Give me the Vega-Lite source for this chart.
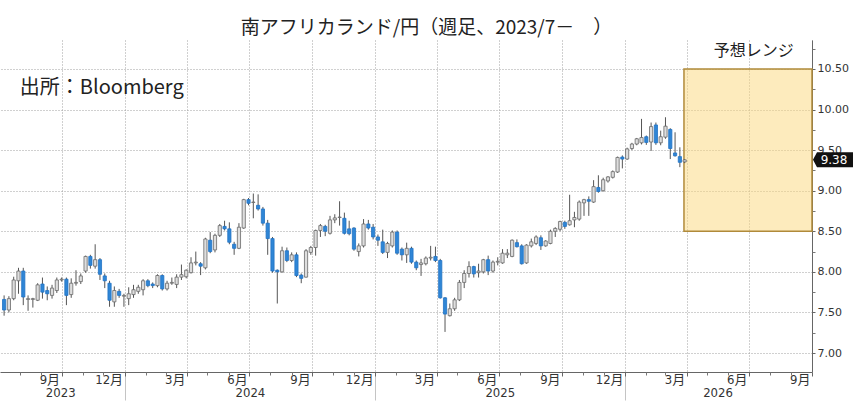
{
  "$schema": "https://vega.github.io/schema/vega-lite/v6.json",
  "width": 812,
  "height": 332,
  "autosize": "none",
  "padding": {"top": 40, "left": 0, "right": 41, "bottom": 34},
  "background": "white",
  "title": {
    "text": "南アフリカランド/円（週足、2023/7－　）",
    "font": "Noto Sans CJK JP",
    "fontSize": 19,
    "fontWeight": "normal",
    "color": "#222",
    "anchor": "middle",
    "frame": "bounds",
    "offset": 2
  },
  "config": {"view": {"stroke": null}},
  "datasets": {
    "candles": [
      {"date": "2023-07-09", "open": 7.66, "high": 7.71, "low": 7.46, "close": 7.53},
      {"date": "2023-07-16", "open": 7.53, "high": 7.70, "low": 7.50, "close": 7.67},
      {"date": "2023-07-23", "open": 7.67, "high": 7.94, "low": 7.65, "close": 7.90},
      {"date": "2023-07-30", "open": 7.89, "high": 8.05, "low": 7.73, "close": 8.01},
      {"date": "2023-08-06", "open": 8.01, "high": 8.05, "low": 7.59, "close": 7.69},
      {"date": "2023-08-13", "open": 7.66, "high": 7.71, "low": 7.52, "close": 7.67},
      {"date": "2023-08-20", "open": 7.66, "high": 7.68, "low": 7.56, "close": 7.67},
      {"date": "2023-08-27", "open": 7.65, "high": 7.86, "low": 7.64, "close": 7.84},
      {"date": "2023-09-03", "open": 7.85, "high": 7.93, "low": 7.67, "close": 7.75},
      {"date": "2023-09-10", "open": 7.77, "high": 7.82, "low": 7.65, "close": 7.73},
      {"date": "2023-09-17", "open": 7.71, "high": 7.84, "low": 7.67, "close": 7.80},
      {"date": "2023-09-24", "open": 7.77, "high": 7.93, "low": 7.74, "close": 7.90},
      {"date": "2023-10-01", "open": 7.90, "high": 7.93, "low": 7.88, "close": 7.91},
      {"date": "2023-10-08", "open": 7.91, "high": 7.93, "low": 7.59, "close": 7.71},
      {"date": "2023-10-15", "open": 7.72, "high": 7.92, "low": 7.68, "close": 7.86},
      {"date": "2023-10-22", "open": 7.86, "high": 8.02, "low": 7.83, "close": 7.87},
      {"date": "2023-10-29", "open": 7.88, "high": 7.98, "low": 7.85, "close": 7.95},
      {"date": "2023-11-05", "open": 8.01, "high": 8.20, "low": 7.99, "close": 8.19},
      {"date": "2023-11-12", "open": 8.19, "high": 8.21, "low": 8.04, "close": 8.08},
      {"date": "2023-11-19", "open": 8.07, "high": 8.34, "low": 8.04, "close": 8.15},
      {"date": "2023-11-26", "open": 8.15, "high": 8.17, "low": 7.90, "close": 7.97},
      {"date": "2023-12-03", "open": 7.95, "high": 7.98, "low": 7.80, "close": 7.89},
      {"date": "2023-12-10", "open": 7.86, "high": 7.89, "low": 7.57, "close": 7.65},
      {"date": "2023-12-17", "open": 7.63, "high": 7.82, "low": 7.57, "close": 7.77},
      {"date": "2023-12-24", "open": 7.76, "high": 7.79, "low": 7.68, "close": 7.71},
      {"date": "2023-12-31", "open": 7.70, "high": 7.73, "low": 7.57, "close": 7.71},
      {"date": "2024-01-07", "open": 7.67, "high": 7.81, "low": 7.59, "close": 7.73},
      {"date": "2024-01-14", "open": 7.72, "high": 7.84, "low": 7.68, "close": 7.78},
      {"date": "2024-01-21", "open": 7.76, "high": 7.84, "low": 7.73, "close": 7.81},
      {"date": "2024-01-28", "open": 7.78, "high": 7.91, "low": 7.71, "close": 7.89},
      {"date": "2024-02-04", "open": 7.89, "high": 7.91, "low": 7.81, "close": 7.83},
      {"date": "2024-02-11", "open": 7.85, "high": 7.87, "low": 7.80, "close": 7.83},
      {"date": "2024-02-18", "open": 7.83, "high": 7.97, "low": 7.81, "close": 7.955},
      {"date": "2024-02-25", "open": 7.955, "high": 7.97, "low": 7.77, "close": 7.79},
      {"date": "2024-03-03", "open": 7.79, "high": 7.89, "low": 7.77, "close": 7.86},
      {"date": "2024-03-10", "open": 7.86, "high": 7.93, "low": 7.84, "close": 7.87},
      {"date": "2024-03-17", "open": 7.845, "high": 7.97, "low": 7.80, "close": 7.935},
      {"date": "2024-03-24", "open": 7.935, "high": 8.09, "low": 7.90, "close": 7.965},
      {"date": "2024-03-31", "open": 7.94, "high": 8.03, "low": 7.92, "close": 8.02},
      {"date": "2024-04-07", "open": 7.99, "high": 8.18, "low": 7.98, "close": 8.11},
      {"date": "2024-04-14", "open": 8.11, "high": 8.25, "low": 8.08, "close": 8.12},
      {"date": "2024-04-21", "open": 8.10, "high": 8.12, "low": 7.96, "close": 8.07},
      {"date": "2024-04-28", "open": 8.05, "high": 8.42, "low": 8.03, "close": 8.405},
      {"date": "2024-05-05", "open": 8.39, "high": 8.49, "low": 8.23, "close": 8.25},
      {"date": "2024-05-12", "open": 8.27, "high": 8.47, "low": 8.24, "close": 8.45},
      {"date": "2024-05-19", "open": 8.45, "high": 8.59, "low": 8.43, "close": 8.57},
      {"date": "2024-05-26", "open": 8.56, "high": 8.63, "low": 8.51, "close": 8.53},
      {"date": "2024-06-02", "open": 8.53, "high": 8.61, "low": 8.34, "close": 8.365},
      {"date": "2024-06-09", "open": 8.34, "high": 8.37, "low": 8.21, "close": 8.29},
      {"date": "2024-06-16", "open": 8.29, "high": 8.60, "low": 8.28, "close": 8.55},
      {"date": "2024-06-23", "open": 8.54, "high": 8.90, "low": 8.53, "close": 8.89},
      {"date": "2024-06-30", "open": 8.89, "high": 8.91, "low": 8.82, "close": 8.845},
      {"date": "2024-07-07", "open": 8.855, "high": 8.965, "low": 8.66, "close": 8.86},
      {"date": "2024-07-14", "open": 8.82, "high": 8.955, "low": 8.755, "close": 8.775},
      {"date": "2024-07-21", "open": 8.775, "high": 8.80, "low": 8.57, "close": 8.60},
      {"date": "2024-07-28", "open": 8.60, "high": 8.64, "low": 8.21, "close": 8.41},
      {"date": "2024-08-04", "open": 8.41, "high": 8.43, "low": 7.99, "close": 8.01},
      {"date": "2024-08-11", "open": 8.02, "high": 8.03, "low": 7.61, "close": 8.00},
      {"date": "2024-08-18", "open": 8.00, "high": 8.31, "low": 7.99, "close": 8.26},
      {"date": "2024-08-25", "open": 8.26, "high": 8.30, "low": 8.12, "close": 8.14},
      {"date": "2024-09-01", "open": 8.14, "high": 8.24, "low": 8.12, "close": 8.21},
      {"date": "2024-09-08", "open": 8.21, "high": 8.24, "low": 7.935, "close": 7.955},
      {"date": "2024-09-15", "open": 7.96, "high": 7.98, "low": 7.86, "close": 7.92},
      {"date": "2024-09-22", "open": 7.935, "high": 8.28, "low": 7.93, "close": 8.26},
      {"date": "2024-09-29", "open": 8.24, "high": 8.32, "low": 8.21, "close": 8.30},
      {"date": "2024-10-06", "open": 8.30, "high": 8.52, "low": 8.20, "close": 8.51},
      {"date": "2024-10-13", "open": 8.51, "high": 8.59, "low": 8.43, "close": 8.57},
      {"date": "2024-10-20", "open": 8.56, "high": 8.58, "low": 8.44, "close": 8.50},
      {"date": "2024-10-27", "open": 8.475, "high": 8.69, "low": 8.46, "close": 8.64},
      {"date": "2024-11-03", "open": 8.64, "high": 8.71, "low": 8.60, "close": 8.665},
      {"date": "2024-11-10", "open": 8.67, "high": 8.87, "low": 8.57, "close": 8.675},
      {"date": "2024-11-17", "open": 8.66, "high": 8.73, "low": 8.46, "close": 8.475},
      {"date": "2024-11-24", "open": 8.53, "high": 8.63, "low": 8.45, "close": 8.47},
      {"date": "2024-12-01", "open": 8.54, "high": 8.55, "low": 8.26, "close": 8.28},
      {"date": "2024-12-08", "open": 8.25, "high": 8.35, "low": 8.19, "close": 8.32},
      {"date": "2024-12-15", "open": 8.32, "high": 8.65, "low": 8.30, "close": 8.59},
      {"date": "2024-12-22", "open": 8.59, "high": 8.64, "low": 8.52, "close": 8.54},
      {"date": "2024-12-29", "open": 8.55, "high": 8.59, "low": 8.40, "close": 8.43},
      {"date": "2025-01-05", "open": 8.43, "high": 8.46, "low": 8.32, "close": 8.39},
      {"date": "2025-01-12", "open": 8.37, "high": 8.52, "low": 8.22, "close": 8.24},
      {"date": "2025-01-19", "open": 8.24, "high": 8.37, "low": 8.17, "close": 8.35},
      {"date": "2025-01-26", "open": 8.32, "high": 8.51, "low": 8.30, "close": 8.49},
      {"date": "2025-02-02", "open": 8.49, "high": 8.51, "low": 8.21, "close": 8.23},
      {"date": "2025-02-09", "open": 8.28, "high": 8.30, "low": 8.14, "close": 8.21},
      {"date": "2025-02-16", "open": 8.21, "high": 8.36, "low": 8.11, "close": 8.29},
      {"date": "2025-02-23", "open": 8.29, "high": 8.31, "low": 8.10, "close": 8.12},
      {"date": "2025-03-02", "open": 8.12, "high": 8.14, "low": 8.02, "close": 8.05},
      {"date": "2025-03-09", "open": 8.09, "high": 8.16, "low": 7.95, "close": 8.11},
      {"date": "2025-03-16", "open": 8.10, "high": 8.19, "low": 8.08, "close": 8.17},
      {"date": "2025-03-23", "open": 8.17, "high": 8.32, "low": 8.14, "close": 8.18},
      {"date": "2025-03-30", "open": 8.19, "high": 8.31, "low": 8.12, "close": 8.14},
      {"date": "2025-04-06", "open": 8.14, "high": 8.16, "low": 7.67, "close": 7.68},
      {"date": "2025-04-13", "open": 7.68, "high": 7.69, "low": 7.26, "close": 7.48},
      {"date": "2025-04-20", "open": 7.46, "high": 7.61, "low": 7.45, "close": 7.545},
      {"date": "2025-04-27", "open": 7.545, "high": 7.68, "low": 7.52, "close": 7.655},
      {"date": "2025-05-04", "open": 7.655, "high": 7.90, "low": 7.64, "close": 7.87},
      {"date": "2025-05-11", "open": 7.87, "high": 8.02, "low": 7.80, "close": 7.98},
      {"date": "2025-05-18", "open": 7.98, "high": 8.13, "low": 7.93, "close": 8.065},
      {"date": "2025-05-25", "open": 8.065, "high": 8.075, "low": 7.93, "close": 7.975},
      {"date": "2025-06-01", "open": 7.99, "high": 8.10, "low": 7.93, "close": 8.01},
      {"date": "2025-06-08", "open": 8.00, "high": 8.16, "low": 7.98, "close": 8.15},
      {"date": "2025-06-15", "open": 8.15, "high": 8.20, "low": 7.96, "close": 8.01},
      {"date": "2025-06-22", "open": 8.01, "high": 8.14, "low": 7.99, "close": 8.12},
      {"date": "2025-06-29", "open": 8.12, "high": 8.18, "low": 8.08, "close": 8.13},
      {"date": "2025-07-06", "open": 8.11, "high": 8.28, "low": 8.10, "close": 8.23},
      {"date": "2025-07-13", "open": 8.21, "high": 8.28, "low": 8.17, "close": 8.23},
      {"date": "2025-07-20", "open": 8.19, "high": 8.40, "low": 8.18, "close": 8.39},
      {"date": "2025-07-27", "open": 8.36, "high": 8.40, "low": 8.30, "close": 8.31},
      {"date": "2025-08-03", "open": 8.32, "high": 8.34, "low": 8.09, "close": 8.10},
      {"date": "2025-08-10", "open": 8.11, "high": 8.34, "low": 8.10, "close": 8.33},
      {"date": "2025-08-17", "open": 8.32, "high": 8.41, "low": 8.30, "close": 8.37},
      {"date": "2025-08-24", "open": 8.35, "high": 8.45, "low": 8.33, "close": 8.43},
      {"date": "2025-08-31", "open": 8.42, "high": 8.45, "low": 8.27, "close": 8.32},
      {"date": "2025-09-07", "open": 8.32, "high": 8.39, "low": 8.31, "close": 8.38},
      {"date": "2025-09-14", "open": 8.35, "high": 8.52, "low": 8.34, "close": 8.50},
      {"date": "2025-09-21", "open": 8.50, "high": 8.55, "low": 8.43, "close": 8.535},
      {"date": "2025-09-28", "open": 8.525, "high": 8.63, "low": 8.50, "close": 8.62},
      {"date": "2025-10-05", "open": 8.61, "high": 8.63, "low": 8.53, "close": 8.56},
      {"date": "2025-10-12", "open": 8.58, "high": 8.95, "low": 8.57, "close": 8.63},
      {"date": "2025-10-19", "open": 8.64, "high": 8.74, "low": 8.55, "close": 8.67},
      {"date": "2025-10-26", "open": 8.65, "high": 8.88, "low": 8.63, "close": 8.86},
      {"date": "2025-11-02", "open": 8.85, "high": 8.90, "low": 8.69, "close": 8.89},
      {"date": "2025-11-09", "open": 8.89, "high": 8.93, "low": 8.69, "close": 8.87},
      {"date": "2025-11-16", "open": 8.86, "high": 9.13, "low": 8.85, "close": 9.05},
      {"date": "2025-11-23", "open": 9.04, "high": 9.19, "low": 8.975, "close": 8.99},
      {"date": "2025-11-30", "open": 9.00, "high": 9.16, "low": 8.99, "close": 9.135},
      {"date": "2025-12-07", "open": 9.12, "high": 9.18, "low": 9.10, "close": 9.17},
      {"date": "2025-12-14", "open": 9.165, "high": 9.25, "low": 9.15, "close": 9.235},
      {"date": "2025-12-21", "open": 9.23, "high": 9.42, "low": 9.22, "close": 9.41},
      {"date": "2025-12-28", "open": 9.415, "high": 9.435, "low": 9.275, "close": 9.39},
      {"date": "2026-01-04", "open": 9.39, "high": 9.53, "low": 9.38, "close": 9.515},
      {"date": "2026-01-11", "open": 9.52, "high": 9.59, "low": 9.50, "close": 9.575},
      {"date": "2026-01-18", "open": 9.575, "high": 9.65, "low": 9.56, "close": 9.64},
      {"date": "2026-01-25", "open": 9.59, "high": 9.885, "low": 9.57, "close": 9.655},
      {"date": "2026-02-01", "open": 9.665, "high": 9.68, "low": 9.565, "close": 9.595},
      {"date": "2026-02-08", "open": 9.60, "high": 9.84, "low": 9.49, "close": 9.79},
      {"date": "2026-02-15", "open": 9.81, "high": 9.84, "low": 9.565, "close": 9.59},
      {"date": "2026-02-22", "open": 9.59, "high": 9.74, "low": 9.56, "close": 9.665},
      {"date": "2026-03-01", "open": 9.66, "high": 9.905, "low": 9.64, "close": 9.795},
      {"date": "2026-03-08", "open": 9.755, "high": 9.77, "low": 9.39, "close": 9.52},
      {"date": "2026-03-15", "open": 9.465, "high": 9.72, "low": 9.42, "close": 9.43},
      {"date": "2026-03-22", "open": 9.42, "high": 9.535, "low": 9.29, "close": 9.35},
      {"date": "2026-03-29", "open": 9.355, "high": 9.39, "low": 9.34, "close": 9.38}
    ]
  },
  "resolve": {"axis": {"x": "independent", "y": "independent"}},
  "layer": [
    {
      "data": {"values": [{"start": "2026-03-28", "end": "2026-10-01", "low": 8.5, "high": 10.5}]},
      "mark": {"type": "rect", "fill": "#fcd77c", "fillOpacity": 0.5, "stroke": "#b08a3a", "strokeWidth": 1.5},
      "encoding": {
        "x": {
          "field": "start", "type": "temporal",
          "scale": {"domain": [{"year": 2023, "month": 7, "date": 3}, {"year": 2026, "month": 10, "date": 1}], "nice": false, "padding": 0},
          "axis": {
            "orient": "bottom", "title": null, "labels": false, "domain": false, "grid": false,
            "values": [{"year": 2024, "month": 1, "date": 1}, {"year": 2025, "month": 1, "date": 1}, {"year": 2026, "month": 1, "date": 1}],
            "tickSize": 28, "tickColor": "#c4c4c4"
          }
        },
        "x2": {"field": "end"},
        "y": {"field": "low", "type": "quantitative", "scale": {"domain": [6.766, 10.857], "nice": false, "zero": false, "padding": 0}, "axis": null},
        "y2": {"field": "high"}
      }
    },
    {
      "data": {"name": "candles"},
      "mark": {"type": "rule", "color": "#555", "strokeWidth": 1},
      "encoding": {
        "x": {
          "field": "date", "type": "temporal",
          "scale": {"domain": [{"year": 2023, "month": 7, "date": 3}, {"year": 2026, "month": 10, "date": 1}], "nice": false, "padding": 0},
          "axis": {
            "orient": "bottom", "title": null,
            "values": [
              {"year": 2023, "month": 10, "date": 1}, {"year": 2024, "month": 1, "date": 1},
              {"year": 2024, "month": 4, "date": 1}, {"year": 2024, "month": 7, "date": 1},
              {"year": 2024, "month": 10, "date": 1}, {"year": 2025, "month": 1, "date": 1},
              {"year": 2025, "month": 4, "date": 1}, {"year": 2025, "month": 7, "date": 1},
              {"year": 2025, "month": 10, "date": 1}, {"year": 2026, "month": 1, "date": 1},
              {"year": 2026, "month": 4, "date": 1}, {"year": 2026, "month": 7, "date": 1},
              {"year": 2026, "month": 10, "date": 1}
            ],
            "labelExpr": "(month(datum.value) == 0 ? 12 : month(datum.value)) + '月'",
            "labelAlign": "right", "labelBaseline": "top", "labelOffset": -2, "labelPadding": -3,
            "labelFont": "Liberation Sans Narrow, DejaVu Sans Condensed, Noto Sans CJK JP",
            "labelFontSize": 13, "labelColor": "#333",
            "labelFlush": false, "labelOverlap": false, "labelBound": false,
            "tickSize": 4, "tickColor": "#666",
            "grid": true, "gridDash": [1, 2], "gridColor": "#a0a0a0",
            "domainColor": "#666"
          }
        },
        "y": {
          "field": "low", "type": "quantitative",
          "scale": {"domain": [6.766, 10.857], "nice": false, "zero": false, "padding": 0},
          "axis": {
            "orient": "right", "title": null,
            "values": [7, 7.5, 8, 8.5, 9, 9.5, 10, 10.5],
            "format": ".2f",
            "labelFont": "DejaVu Sans", "labelFontSize": 11, "labelColor": "#333", "labelPadding": 2,
            "tickSize": 3, "tickColor": "#666",
            "grid": true, "gridDash": [1, 2], "gridColor": "#a0a0a0",
            "domainColor": "#666"
          }
        },
        "y2": {"field": "high"}
      }
    },
    {
      "data": {"name": "candles"},
      "mark": {"type": "bar", "size": 3.2, "strokeWidth": 0.8},
      "encoding": {
        "x": {
          "field": "date", "type": "temporal",
          "scale": {"domain": [{"year": 2023, "month": 7, "date": 3}, {"year": 2026, "month": 10, "date": 1}], "nice": false, "padding": 0},
          "axis": {
            "orient": "bottom", "title": null, "labels": false, "domain": false, "grid": false,
            "values": [
              {"year": 2023, "month": 8, "date": 1}, {"year": 2023, "month": 9, "date": 1}, {"year": 2023, "month": 11, "date": 1},
              {"year": 2023, "month": 12, "date": 1}, {"year": 2024, "month": 2, "date": 1}, {"year": 2024, "month": 3, "date": 1},
              {"year": 2024, "month": 5, "date": 1}, {"year": 2024, "month": 6, "date": 1}, {"year": 2024, "month": 8, "date": 1},
              {"year": 2024, "month": 9, "date": 1}, {"year": 2024, "month": 11, "date": 1}, {"year": 2024, "month": 12, "date": 1},
              {"year": 2025, "month": 2, "date": 1}, {"year": 2025, "month": 3, "date": 1}, {"year": 2025, "month": 5, "date": 1},
              {"year": 2025, "month": 6, "date": 1}, {"year": 2025, "month": 8, "date": 1}, {"year": 2025, "month": 9, "date": 1},
              {"year": 2025, "month": 11, "date": 1}, {"year": 2025, "month": 12, "date": 1}, {"year": 2026, "month": 2, "date": 1},
              {"year": 2026, "month": 3, "date": 1}, {"year": 2026, "month": 5, "date": 1}, {"year": 2026, "month": 6, "date": 1},
              {"year": 2026, "month": 8, "date": 1}, {"year": 2026, "month": 9, "date": 1}
            ],
            "tickSize": 3, "tickColor": "#777"
          }
        },
        "y": {
          "field": "open", "type": "quantitative",
          "scale": {"domain": [6.766, 10.857], "nice": false, "zero": false, "padding": 0},
          "axis": {
            "orient": "right", "title": null, "labels": false, "domain": false, "grid": false,
            "values": [7.25, 7.75, 8.25, 8.75, 9.25, 9.75, 10.25, 10.75],
            "tickSize": 3, "tickColor": "#777"
          }
        },
        "y2": {"field": "close"},
        "fill": {"condition": {"test": "datum.close < datum.open", "value": "#2f86d6"}, "value": "#dedede"},
        "stroke": {"condition": {"test": "datum.close < datum.open", "value": "#2172c4"}, "value": "#6a6a6a"}
      }
    },
    {
      "data": {"values": [{"date": "2023-08-01", "value": 10.27, "label": "出所：Bloomberg"}]},
      "mark": {"type": "text", "align": "left", "baseline": "middle", "font": "Noto Sans CJK JP", "fontSize": 20, "color": "#222"},
      "encoding": {
        "x": {"field": "date", "type": "temporal", "scale": {"domain": [{"year": 2023, "month": 7, "date": 3}, {"year": 2026, "month": 10, "date": 1}], "nice": false, "padding": 0}, "axis": null},
        "y": {"field": "value", "type": "quantitative", "scale": {"domain": [6.766, 10.857], "nice": false, "zero": false, "padding": 0}, "axis": null},
        "text": {"field": "label"}
      }
    },
    {
      "data": {"values": [{"date": "2026-07-08", "value": 10.72, "label": "予想レンジ"}]},
      "mark": {"type": "text", "align": "center", "baseline": "middle", "font": "Noto Sans CJK JP", "fontSize": 16, "color": "#222"},
      "encoding": {
        "x": {
          "field": "date", "type": "temporal",
          "scale": {"domain": [{"year": 2023, "month": 7, "date": 3}, {"year": 2026, "month": 10, "date": 1}], "nice": false, "padding": 0},
          "axis": {
            "orient": "bottom", "title": null, "ticks": false, "domain": false, "grid": false,
            "values": [{"year": 2023, "month": 9, "date": 29}, {"year": 2024, "month": 7, "date": 2}, {"year": 2025, "month": 7, "date": 2}, {"year": 2026, "month": 5, "date": 16}],
            "labelExpr": "timeFormat(datum.value, '%Y')",
            "labelAlign": "center", "labelBaseline": "top", "labelPadding": 14,
            "labelFont": "Liberation Sans Narrow, DejaVu Sans Condensed", "labelFontSize": 13, "labelColor": "#333",
            "labelFlush": false, "labelOverlap": false, "labelBound": false
          }
        },
        "y": {"field": "value", "type": "quantitative", "scale": {"domain": [6.766, 10.857], "nice": false, "zero": false, "padding": 0}, "axis": null},
        "text": {"field": "label"}
      }
    },
    {
      "data": {"values": [{"date": "2026-10-01", "value": 9.38, "label": "9.38"}]},
      "layer": [
        {
          "mark": {"type": "point", "filled": true, "color": "#111", "opacity": 1, "size": 1600, "xOffset": 21,
                   "shape": "M-1,0L-0.8,-0.375L1,-0.375L1,0.375L-0.8,0.375Z"}
        },
        {
          "mark": {"type": "text", "align": "center", "baseline": "middle", "font": "DejaVu Sans", "fontSize": 12, "color": "white", "xOffset": 22},
          "encoding": {"text": {"field": "label"}}
        }
      ],
      "encoding": {
        "x": {"field": "date", "type": "temporal", "scale": {"domain": [{"year": 2023, "month": 7, "date": 3}, {"year": 2026, "month": 10, "date": 1}], "nice": false, "padding": 0}, "axis": null},
        "y": {"field": "value", "type": "quantitative", "scale": {"domain": [6.766, 10.857], "nice": false, "zero": false, "padding": 0}, "axis": null}
      }
    }
  ]
}
